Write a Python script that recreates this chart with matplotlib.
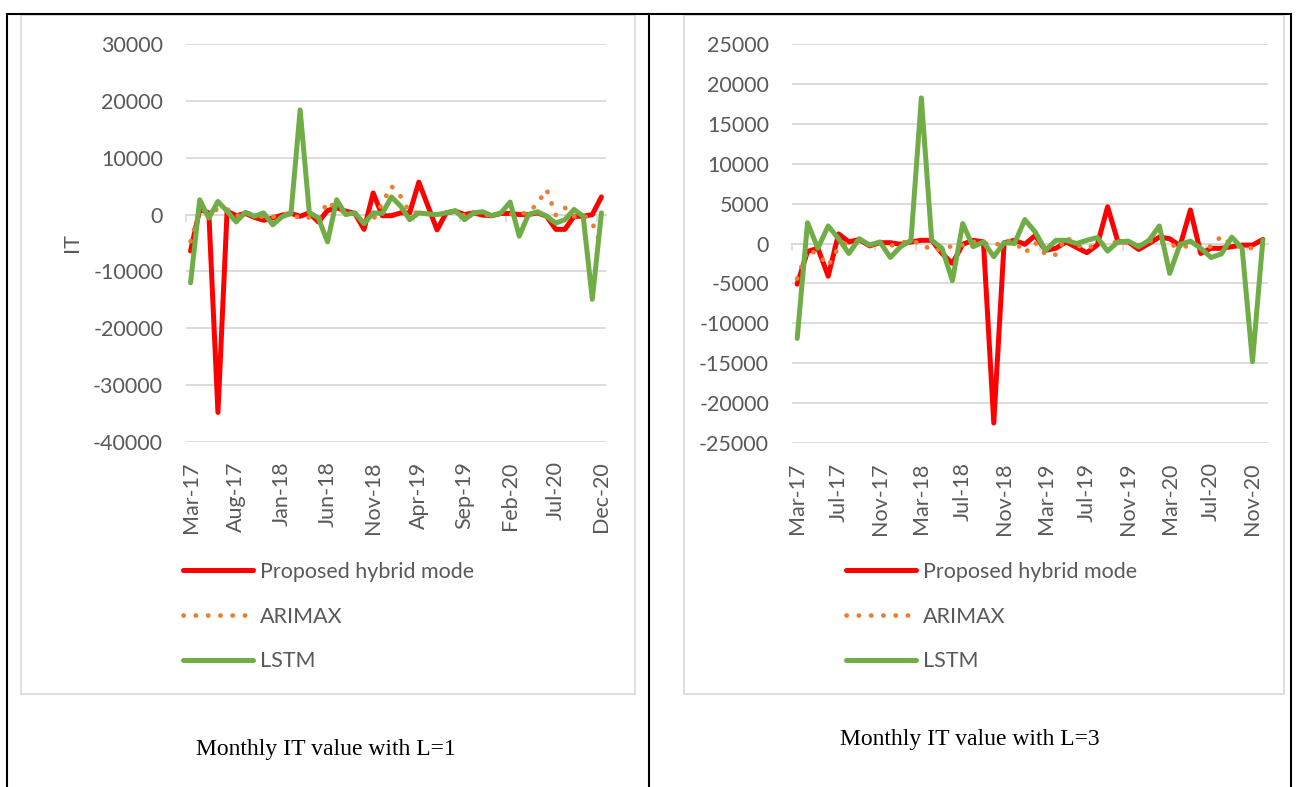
import matplotlib
matplotlib.use("Agg")
import matplotlib.pyplot as plt
import numpy as np
import pandas as pd
from matplotlib.patches import Rectangle

plt.rcParams["font.family"] = ["Lato", "DejaVu Sans"]
plt.rcParams["axes.unicode_minus"] = False

# monthly categories, Mar-17 .. Dec-20
months = pd.date_range("2017-03-01", periods=46, freq="MS").strftime("%b-%y").tolist()

# L = 1
hybrid_l1 = [-6400, 900, 300, -34800, 600, -200, 200, -500, -1000, -600,
             -100, 200, -300, 300, -1300, 700, 1200, 600, 200, -2600,
             3800, -200, -200, 300, 300, 5700, 1500, -2700, 300, 600,
             0, 300, -100, -200, 200, 200, 0, 0, 300, -300,
             -2600, -2600, -300, -300, 0, 3100]
arimax_l1 = [-4700, 800, 600, 900, 1000, -300, 300, 0, -500, -400,
             0, 200, -700, -500, -1000, 2300, 1000, 300, 200, -1200,
             -900, 2000, 5000, 3200, 400, 300, 200, 0, 200, 600,
             -200, 300, 0, -200, 200, 100, 200, 300, 2000, 4400,
             -100, 1200, -300, 0, -1500, -5500]
lstm_l1 = [-12000, 2600, -600, 2300, 600, -1300, 400, -300, 300, -1800,
           -400, 200, 18400, 400, -600, -4800, 2600, 0, 300, -1600,
           300, 200, 3100, 1500, -900, 300, 100, 0, 300, 700,
           -900, 300, 500, -200, 300, 2200, -3800, 0, 500, -300,
           -1500, -900, 900, -300, -14900, 300]

# L = 3
hybrid_l3 = [-5100, -1000, -600, -4100, 1200, 200, 500, -300, 100, 100,
             -100, 200, 400, 400, -1250, -2500, -100, 400, 200, -22500,
             100, 400, -100, 1000, -850, -600, 200, -500, -1150, -200,
             4600, 200, 200, -750, 0, 800, 600, -300, 4200, -1250,
             -600, -600, -400, -200, -200, 500]
arimax_l3 = [-4400, -800, -1300, -2800, -500, 200, 300, -200, 100, -300,
             100, 300, 0, -900, -700, -300, -200, 200, 100, -300,
             300, 300, -1200, 100, -1400, -1400, 800, -200, -600, -100,
             0, 200, 200, -200, 300, 400, -300, -200, -500, -300,
             -400, 950, -200, -400, -600, -200]
lstm_l3 = [-11900, 2600, -600, 2200, 600, -1250, 600, -200, 200, -1750,
           -400, 400, 18250, 400, -600, -4650, 2500, -400, 200, -1650,
           100, 0, 3000, 1450, -850, 400, 400, 0, 400, 750,
           -950, 200, 300, -400, 400, 2200, -3750, -100, 300, -600,
           -1750, -1300, 800, -600, -14800, 400]

RED = "#FF0000"
ORANGE = "#ED7D31"
GREEN = "#70AD47"
GRID = "#D9D9D9"
TXT = "#595959"
FS = 15.5

W, H = 1298, 787
fig = plt.figure(figsize=(W / 100, H / 100), dpi=100)
fig.patch.set_facecolor("white")

# page layer in pixel units: table rules, chart frames, captions
page = fig.add_axes([0, 0, 1, 1])
page.set_xlim(0, W)
page.set_ylim(H, 0)
page.axis("off")
page.plot([7, 1291], [14, 14], color="black", lw=1.5)
for xv in (7, 649, 1291):
    page.plot([xv, xv], [14, H], color="black", lw=1.5)
page.add_patch(Rectangle((21, 15), 614, 679, fill=False, ec=GRID, lw=1.2))
page.add_patch(Rectangle((684, 15), 600, 679, fill=False, ec=GRID, lw=1.2))
page.text(326, 750, "Monthly IT value with L=1", family="Liberation Serif",
          fontsize=17, ha="center", va="center", color="black")
page.text(970, 740, "Monthly IT value with L=3", family="Liberation Serif",
          fontsize=17, ha="center", va="center", color="black")


def px_rect(x0, y0, x1, y1):
    return [x0 / W, 1 - y1 / H, (x1 - x0) / W, (y1 - y0) / H]


def panel(rect, hybrid, arimax, lstm, lo, hi, step, every, legend_x, ylabel=None):
    ax = fig.add_axes(px_rect(*rect))
    x = np.arange(len(months))
    ax.plot(x, hybrid, color=RED, lw=3.6, solid_joinstyle="round",
            solid_capstyle="round", label="Proposed hybrid mode")
    ax.plot(x, arimax, color=ORANGE, lw=3.4, linestyle=(0, (0.05, 2.55)),
            dash_capstyle="round", label="ARIMAX")
    ax.plot(x, lstm, color=GREEN, lw=3.6, solid_joinstyle="round",
            solid_capstyle="round", label="LSTM")

    ax.set_xlim(-0.5, len(months) - 0.5)
    ax.set_ylim(lo, hi)
    ax.set_yticks(np.arange(lo, hi + 1, step))
    ax.grid(axis="y", color=GRID, lw=1.3)
    ax.set_axisbelow(True)
    for s in ax.spines.values():
        s.set_visible(False)
    idx = list(range(0, len(months), every))
    ax.set_xticks(idx, [months[i] for i in idx], rotation=90)
    ax.tick_params(axis="x", length=0, pad=14, labelsize=FS, labelcolor=TXT)
    ax.tick_params(axis="y", length=0, pad=16.5, labelsize=FS, labelcolor=TXT)

    # category axis crossing at zero
    zero = ax.secondary_xaxis(0, transform=ax.transData)
    zero.set_xticks(np.arange(-0.5, len(months), every))
    zero.tick_params(length=5, width=1.2, color=GRID, labelbottom=False)
    for s in zero.spines.values():
        s.set_color(GRID)
        s.set_linewidth(1.3)

    if ylabel:
        ax.text(-0.272, 0.5, ylabel, transform=ax.transAxes, rotation=90,
                ha="center", va="center", fontsize=FS, color=TXT)

    ax.legend(loc="upper left", bbox_to_anchor=(legend_x / W, 1 - 562 / H),
              bbox_transform=fig.transFigure, frameon=False, borderpad=0,
              borderaxespad=0, handlelength=3.25, handletextpad=0.33,
              labelspacing=1.14, prop={"size": FS}, labelcolor=TXT)
    return ax


panel((186, 44, 606, 442), hybrid_l1, arimax_l1, lstm_l1,
      -40000, 30000, 10000, 5, 183, ylabel="IT")
panel((792, 44, 1268, 443), hybrid_l3, arimax_l3, lstm_l3,
      -25000, 25000, 5000, 4, 846)

fig.savefig("out.png", dpi=100, facecolor="white")
